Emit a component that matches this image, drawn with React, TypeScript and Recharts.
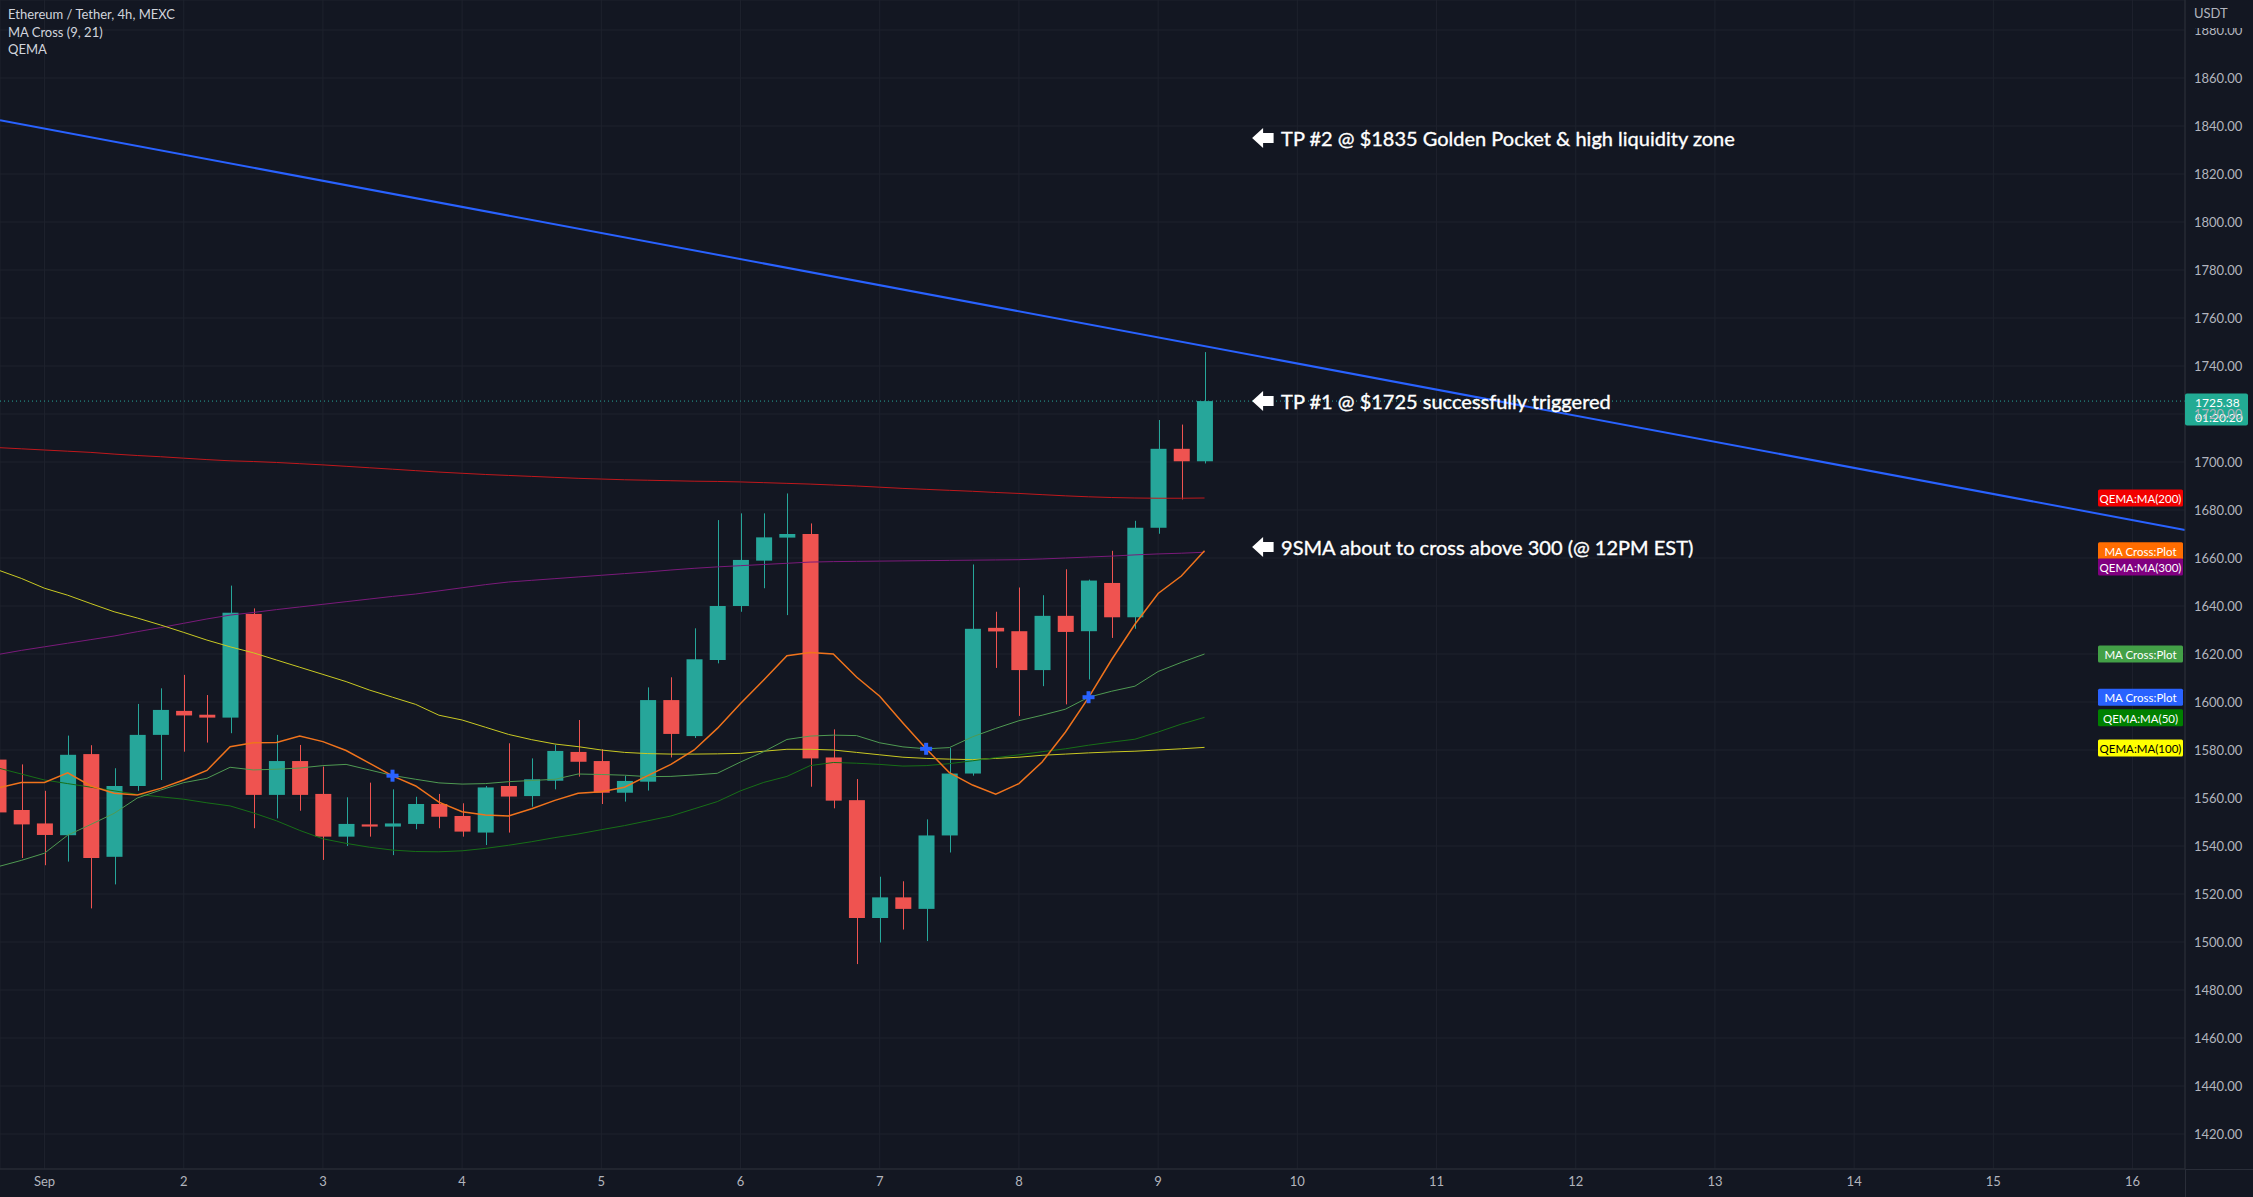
import React from 'react';
import {
  ComposedChart,
  Bar,
  Line,
  Scatter,
  XAxis,
  YAxis,
  CartesianGrid,
  ReferenceLine,
  ReferenceDot,
} from 'recharts';

// ---------- data ----------
const INDEX = [
  -2, -1, 0, 1, 2, 3, 4, 5, 6, 7, 8, 9, 10, 11, 12, 13, 14, 15, 16, 17, 18, 19, 20,
  21, 22, 23, 24, 25, 26, 27, 28, 29, 30, 31, 32, 33, 34, 35, 36, 37, 38, 39, 40,
  41, 42, 43, 44, 45, 46, 47, 48, 49, 50,
];
const OPEN = [
  1576, 1555, 1549.4, 1544.5, 1578.3, 1535.5, 1565, 1586.3, 1596.3, 1594.7, 1593.5,
  1636.7, 1561.3, 1575.4, 1561.7, 1543.9, 1549, 1548.1, 1549.2, 1557.5, 1552.5,
  1545.6, 1565, 1560.8, 1567.2, 1579.2, 1575.4, 1562.2, 1566.8, 1600.8, 1585.8,
  1617.5, 1640, 1658.9, 1668.5, 1670, 1576.9, 1559.1, 1510, 1518.6, 1513.8, 1544.4,
  1570.2, 1630.9, 1629.5, 1613.3, 1635.9, 1629.5, 1649.6, 1635.3, 1672.6, 1705.5,
  1700.3,
];
const HIGH = [
  1580, 1574, 1563, 1586, 1582, 1572.4, 1599.2, 1605.7, 1611.3, 1602.9, 1648.5, 1639,
  1586.3, 1582.1, 1573.1, 1560.3, 1566.4, 1563.6, 1560.5, 1561.7, 1557.8, 1565,
  1582.8, 1576.5, 1582.1, 1592.5, 1580.3, 1569.2, 1606.1, 1610.3, 1630.7, 1675.8,
  1678.6, 1678.6, 1686.9, 1674.4, 1588.6, 1567.9, 1527.2, 1525.3, 1551.1, 1580.8,
  1657.3, 1637.6, 1647.7, 1644.5, 1655.3, 1651, 1663, 1675.5, 1717.5, 1715.6, 1745.8,
];
const LOW = [
  1548, 1535, 1532, 1533.5, 1514, 1524, 1563, 1567.5, 1579.3, 1583.1, 1587, 1547.4,
  1551.5, 1554.7, 1534.2, 1540, 1543.9, 1536.2, 1547, 1547.4, 1543.9, 1540.4, 1545.6,
  1556.4, 1563.6, 1568.9, 1557.5, 1558.5, 1563.1, 1576.9, 1585, 1616.1, 1637.6,
  1647.4, 1636.2, 1564.7, 1555.7, 1490.8, 1499.8, 1505.2, 1500.4, 1537.3, 1569.3,
  1614.2, 1594.2, 1606.6, 1599, 1609.4, 1626.7, 1630.5, 1670.1, 1684.4, 1699.4,
];
const CLOSE = [
  1554, 1549, 1544.6, 1578, 1535, 1565, 1586.3, 1596.7, 1594.4, 1593.5, 1637.2,
  1561.3, 1575.4, 1561.3, 1543.9, 1549.2, 1548.1, 1549.4, 1557.5, 1552.2, 1546,
  1564.4, 1560.6, 1567.8, 1579.6, 1575.1, 1562.2, 1567.1, 1600.8, 1586.7, 1617.8,
  1640, 1659.2, 1668.6, 1670, 1576.5, 1558.9, 1510, 1518.6, 1513.8, 1544.4, 1570.2,
  1630.5, 1629.4, 1613.3, 1635.9, 1629.2, 1650.6, 1635.3, 1672.6, 1705.5, 1700.3,
  1725.38,
];

// MA Cross (9, 21)
const MA_FAST = [
  1564.2, 1566.5, 1566.5, 1570.5, 1565, 1562, 1561.3, 1564, 1567.5, 1571.5, 1581.4,
  1583, 1583.1, 1585.8, 1583.5, 1579.8, 1574.5, 1569.2, 1565, 1558.3, 1554.3, 1552.9,
  1552.5, 1555.5, 1559, 1562, 1562.6, 1564.5, 1569.3, 1574, 1580, 1589, 1599.4,
  1609.2, 1619.3, 1620.6, 1620, 1610.4, 1602.4, 1591.3, 1580.5, 1570.6, 1565.4,
  1561.6, 1566, 1575, 1587.4, 1601.8, 1617.7, 1632.4, 1645.2, 1652.5, 1663,
];
const MA_SLOW = [
  1531.4, 1534, 1537, 1544.5, 1549, 1553.6, 1560, 1563.3, 1566.4, 1568.2, 1572.8,
  1571.7, 1572, 1572.5, 1573.5, 1574, 1571.7, 1569.4, 1567.8, 1566.3, 1565.8, 1566,
  1566.8, 1567.3, 1567.8, 1570, 1569.8, 1569.5, 1568.9, 1569, 1569.6, 1570.3, 1575,
  1579.3, 1584.4, 1585.8, 1586.2, 1586, 1583, 1581.3, 1580.5, 1581, 1585.5, 1589,
  1592.2, 1594.5, 1597, 1602, 1604.5, 1606.6, 1612.7, 1616.5, 1620,
];
// QEMA
const MA50 = [
  1572.5, 1570, 1567.5, 1566, 1564.5, 1563, 1561.5, 1560.5, 1559.5, 1558, 1556.7,
  1553.8, 1550.5, 1546.5, 1543, 1541.1, 1539.5, 1538.3, 1537.7, 1537.6, 1538, 1539,
  1540.3, 1541.8, 1543.5, 1545, 1546.8, 1548.5, 1550.5, 1552.5, 1555.5, 1558.5, 1563,
  1566.5, 1569, 1573.5, 1574.8, 1574.5, 1574, 1573.3, 1573.5, 1574.3, 1575.5, 1576.8,
  1578, 1579.3, 1580.5, 1582, 1583.3, 1584.5, 1587.5, 1590.8, 1593.6,
];
const MA100 = [
  1655, 1651.5, 1647.4, 1644.5, 1641, 1637.6, 1635, 1632.1, 1629, 1625.8, 1623,
  1620.5, 1617.5, 1614.5, 1611.5, 1608.5, 1605, 1602, 1599, 1594.5, 1592.5, 1589.5,
  1586.5, 1584.3, 1582.5, 1581.4, 1580, 1579, 1578.5, 1578.3, 1578.3, 1578.4, 1578.6,
  1579.5, 1580.3, 1580.3, 1580, 1579, 1578, 1577, 1576.5, 1576.2, 1576, 1576.5, 1577,
  1577.8, 1578.3, 1578.8, 1579.2, 1579.5, 1580, 1580.5, 1581.1,
];
const MA200 = [
  1706, 1705.5, 1705, 1704.5, 1704, 1703.3, 1702.7, 1702.2, 1701.6, 1701, 1700.5,
  1700.2, 1699.8, 1699.3, 1698.8, 1698.2, 1697.6, 1697, 1696.4, 1695.8, 1695.3,
  1694.8, 1694.4, 1694, 1693.6, 1693.2, 1692.9, 1692.6, 1692.4, 1692.2, 1692, 1691.9,
  1691.7, 1691.4, 1691.1, 1690.8, 1690.4, 1690, 1689.5, 1689, 1688.6, 1688.2, 1687.8,
  1687.3, 1686.9, 1686.4, 1685.9, 1685.5, 1685.2, 1685, 1684.9, 1684.9, 1685,
];
const MA300 = [
  1619.8, 1621.5, 1623, 1624.5, 1626, 1627.5, 1629.3, 1631, 1632.8, 1634.6, 1636.2,
  1637.3, 1638.5, 1639.6, 1640.7, 1641.8, 1642.9, 1644, 1645, 1646.3, 1647.6, 1648.9,
  1650, 1650.7, 1651.4, 1652.1, 1652.8, 1653.5, 1654.2, 1655, 1655.7, 1656.3, 1656.8,
  1657.3, 1657.8, 1658.3, 1658.5, 1658.6, 1658.7, 1658.8, 1658.9, 1659, 1659.1,
  1659.2, 1659.3, 1659.6, 1660, 1660.4, 1660.8, 1661.3, 1661.7, 1662, 1662.4,
];

// MA cross markers
const CROSS_INDEX = [15, 38, 45];
const CROSS_PRICE = [1569.3, 1580.5, 1602.0];

// trend line (index, price)
const TREND_INDEX = [-1.918, 92.26];
const TREND_PRICE = [1842.4, 1671.7];

const LAST_PRICE = 1725.38;
const COUNTDOWN = '01:20:20';

// annotations
const NOTE_INDEX = 52.05;
const NOTE_PRICES = [1835, 1725.38, 1664.6];
const NOTE_TEXTS = [
  'TP #2 @ $1835 Golden Pocket & high liquidity zone',
  'TP #1 @ $1725 successfully triggered',
  '9SMA about to cross above 300 (@ 12PM EST)',
];

// right side series labels
const TAG_TEXTS = [
  'QEMA:MA(200)',
  'MA Cross:Plot',
  'QEMA:MA(300)',
  'MA Cross:Plot',
  'MA Cross:Plot',
  'QEMA:MA(50)',
  'QEMA:MA(100)',
];
const TAG_PRICES = [1685.0, 1663.0, 1656.2, 1620.0, 1602.0, 1593.4, 1580.8];
const TAG_COLORS = ['#f20000', '#ff6d00', '#800080', '#43a047', '#2962ff', '#008000', '#ffff00'];
const TAG_TEXT_COLORS = ['#ffffff', '#ffffff', '#ffffff', '#ffffff', '#ffffff', '#ffffff', '#000000'];

const DAY_TICKS = [0, 6, 12, 18, 24, 30, 36, 42, 48, 54, 60, 66, 72, 78, 84, 90];
const DAY_LABELS = ['Sep', '2', '3', '4', '5', '6', '7', '8', '9', '10', '11', '12', '13', '14', '15', '16'];
const PRICE_TICKS = [
  1420, 1440, 1460, 1480, 1500, 1520, 1540, 1560, 1580, 1600, 1620, 1640, 1660, 1680,
  1700, 1720, 1740, 1760, 1780, 1800, 1820, 1840, 1860, 1880,
];

const LEGEND_LINES = ['Ethereum / Tether, 4h, MEXC', 'MA Cross (9, 21)', 'QEMA'];

// ---------- chart config ----------
const W = 2253;
const H = 1197;
const X_DOMAIN = [-1.918, 92.26];
const Y_DOMAIN = [1405.42, 1892.5];
const BG = '#131722';
const UP = '#26a69a';
const DOWN = '#ef5350';
const GRID = '#1e222d';
const AXIS_LINE = '#2a2e39';
const TEXT = '#b2b5be';
const FONT = 'Lato, "Open Sans", sans-serif';

const data = INDEX.map((i, k) => ({
  i,
  open: OPEN[k],
  high: HIGH[k],
  low: LOW[k],
  close: CLOSE[k],
  fast: MA_FAST[k],
  slow: MA_SLOW[k],
  ma50: MA50[k],
  ma100: MA100[k],
  ma200: MA200[k],
  ma300: MA300[k],
}));

const crossData = CROSS_INDEX.map((i, k) => ({ i, p: CROSS_PRICE[k] }));

const Candle = (props: any) => {
  const { x, y, width, height, payload } = props;
  if (!payload || x == null || y == null) return null;
  const { open, close, high, low } = payload;
  const top = Math.min(y, y + height);
  const h = Math.abs(height);
  const ratio = h / (high - low);
  const yO = top + (high - open) * ratio;
  const yC = top + (high - close) * ratio;
  const color = close >= open ? UP : DOWN;
  const bodyTop = Math.min(yO, yC);
  const bodyH = Math.max(Math.abs(yO - yC), 1.5);
  const cx = Math.round(x + width / 2) + 0.5;
  return (
    <g>
      <line x1={cx} x2={cx} y1={top} y2={top + h} stroke={color} strokeWidth={1} />
      <rect x={x} y={bodyTop} width={width} height={bodyH} fill={color} />
    </g>
  );
};

const CrossMark = (props: any) => {
  const { cx, cy } = props;
  if (cx == null || cy == null) return null;
  return (
    <g fill="#2962ff">
      <rect x={cx - 6} y={cy - 2} width={12} height={4} />
      <rect x={cx - 2} y={cy - 6} width={4} height={12} />
    </g>
  );
};

const makeNote = (text: string) => (props: any) => {
  const { cx, cy } = props;
  if (cx == null || cy == null) return null;
  const pts = [
    [cx, cy],
    [cx + 11, cy - 10],
    [cx + 11, cy - 5],
    [cx + 21.5, cy - 5],
    [cx + 21.5, cy + 5],
    [cx + 11, cy + 5],
    [cx + 11, cy + 10],
  ]
    .map((p) => p.join(','))
    .join(' ');
  return (
    <g>
      <polygon points={pts} fill="#ffffff" />
      <text
        x={cx + 29}
        y={cy}
        dominantBaseline="central"
        fill="#ffffff"
        fontSize={20}
        fontFamily={FONT}
        stroke="#ffffff"
        strokeWidth={0.35}
      >
        {text}
      </text>
    </g>
  );
};

const makeTag = (text: string, color: string, textColor: string) => (props: any) => {
  const { cx, cy } = props;
  if (cx == null || cy == null) return null;
  return (
    <g>
      <rect x={cx - 87} y={cy - 8.5} width={85} height={17} rx={1.5} fill={color} />
      <text
        x={cx - 44.5}
        y={cy + 0.5}
        textAnchor="middle"
        dominantBaseline="central"
        fill={textColor}
        fontSize={11.5}
        fontFamily={FONT}
      >
        {text}
      </text>
    </g>
  );
};

const PriceTag = (props: any) => {
  const { cx, cy } = props;
  if (cx == null || cy == null) return null;
  return (
    <g>
      <rect x={cx} y={cy - 7.5} width={63} height={32} rx={2} fill="#22ab94" />
      <text x={cx + 10} y={cy + 1} dominantBaseline="central" fill="#ffffff" fontSize={12} fontFamily={FONT}>
        {LAST_PRICE.toFixed(2)}
      </text>
      <text x={cx + 10} y={cy + 16} dominantBaseline="central" fill="#ffffff" fontSize={12} fontFamily={FONT}>
        {COUNTDOWN}
      </text>
    </g>
  );
};

export default function App() {
  return (
    <div
      style={{
        position: 'absolute',
        left: 0,
        top: 0,
        width: W,
        height: H,
        background: BG,
        overflow: 'hidden',
        fontFamily: FONT,
      }}
    >
      <ComposedChart
        width={W}
        height={H}
        data={data}
        margin={{ top: 0, right: 0, bottom: 0, left: 0 }}
      >
        <CartesianGrid stroke={GRID} strokeWidth={1} />
        <XAxis
          dataKey="i"
          type="number"
          domain={X_DOMAIN}
          allowDataOverflow
          ticks={DAY_TICKS}
          interval={0}
          tickFormatter={(v: number) => DAY_LABELS[DAY_TICKS.indexOf(v)] ?? ''}
          height={28}
          tickSize={0}
          tickMargin={8}
          axisLine={{ stroke: AXIS_LINE }}
          tick={{ fill: TEXT, fontSize: 13, fontFamily: FONT }}
        />
        <YAxis
          orientation="right"
          type="number"
          domain={Y_DOMAIN}
          allowDataOverflow
          ticks={PRICE_TICKS}
          interval={0}
          width={68}
          tickSize={0}
          tickMargin={9}
          tickFormatter={(v: number) => v.toFixed(2)}
          axisLine={{ stroke: AXIS_LINE }}
          tick={{ fill: TEXT, fontSize: 13, fontFamily: FONT, textAnchor: 'start' }}
        />
        <Bar
          dataKey={(d: any) => [d.low, d.high]}
          barSize={16}
          shape={<Candle />}
          activeBar={false}
          isAnimationActive={false}
        />
        <Line dataKey="ma300" stroke="#7a1a7a" strokeWidth={1} dot={false} activeDot={false} isAnimationActive={false} />
        <Line dataKey="ma200" stroke="#c0181c" strokeWidth={1} dot={false} activeDot={false} isAnimationActive={false} />
        <Line dataKey="ma100" stroke="#c9c923" strokeWidth={1} dot={false} activeDot={false} isAnimationActive={false} />
        <Line dataKey="ma50" stroke="#176f17" strokeWidth={1} dot={false} activeDot={false} isAnimationActive={false} />
        <Line dataKey="slow" stroke="#4f9a52" strokeWidth={1} dot={false} activeDot={false} isAnimationActive={false} />
        <Line dataKey="fast" stroke="#f0731c" strokeWidth={1.5} dot={false} activeDot={false} isAnimationActive={false} />
        <ReferenceLine y={LAST_PRICE} stroke={UP} strokeDasharray="1 3" strokeWidth={1} />
        <ReferenceLine
          segment={[
            { x: TREND_INDEX[0], y: TREND_PRICE[0] },
            { x: TREND_INDEX[1], y: TREND_PRICE[1] },
          ]}
          stroke="#2962ff"
          strokeWidth={2}
        />
        <Scatter data={crossData} dataKey="p" shape={<CrossMark />} activeShape={false} isAnimationActive={false} />
        {NOTE_TEXTS.map((t, k) => (
          <ReferenceDot key={'n' + k} x={NOTE_INDEX} y={NOTE_PRICES[k]} r={0} shape={makeNote(t)} />
        ))}
        {TAG_TEXTS.map((t, k) => (
          <ReferenceDot
            key={'t' + k}
            x={X_DOMAIN[1]}
            y={TAG_PRICES[k]}
            r={0}
            shape={makeTag(t, TAG_COLORS[k], TAG_TEXT_COLORS[k])}
          />
        ))}
        <ReferenceDot x={X_DOMAIN[1]} y={LAST_PRICE} r={0} shape={<PriceTag />} />
      </ComposedChart>

      {/* legend */}
      <div style={{ position: 'absolute', left: 8, top: 6, color: '#d1d4dc', fontSize: 13, lineHeight: '17.5px' }}>
        {LEGEND_LINES.map((l) => (
          <div key={l}>{l}</div>
        ))}
      </div>
      {/* currency label */}
      <div
        style={{
          position: 'absolute',
          left: 2186,
          top: 0,
          width: 67,
          height: 28,
          background: BG,
          color: TEXT,
          fontSize: 13,
          lineHeight: '26px',
          paddingLeft: 8,
          boxSizing: 'border-box',
        }}
      >
        USDT
      </div>
      {/* axis frame extensions */}
      <div style={{ position: 'absolute', left: 2185, top: 1169, width: 1, height: 28, background: AXIS_LINE }} />
      <div style={{ position: 'absolute', left: 2185, top: 1169, width: 68, height: 1, background: AXIS_LINE }} />
    </div>
  );
}
